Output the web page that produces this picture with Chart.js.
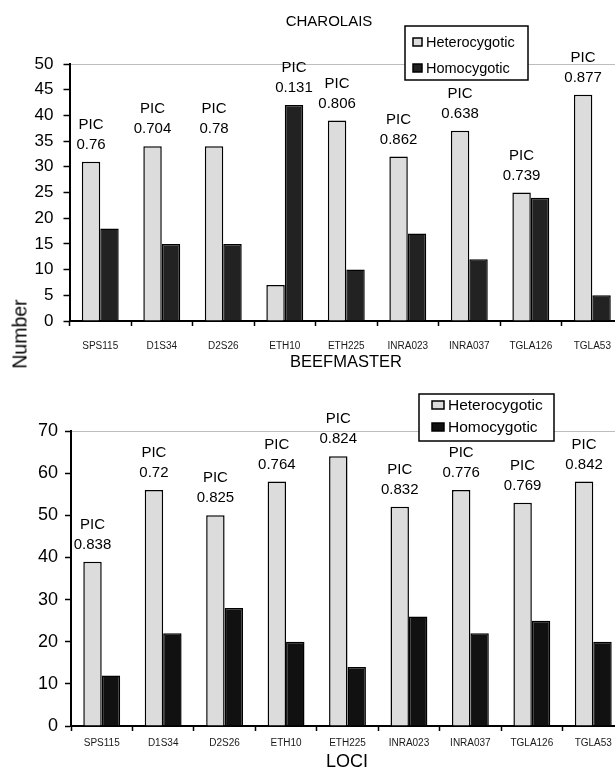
<!DOCTYPE html>
<html>
<head>
<meta charset="utf-8">
<script src="https://cdn.jsdelivr.net/npm/chart.js@4.4.1/dist/chart.umd.min.js"></script>
<style>
  html, body { margin: 0; padding: 0; background: #fff; overflow: hidden; }
  #wrap { position: relative; width: 615px; height: 769px; overflow: hidden; background: #fff; }
  #c1 { position: absolute; left: 0; top: 0; }
  #c2 { position: absolute; left: 0; top: 352px; }
  #ylab { position: absolute; left: 20px; top: 334px; transform: translate(-50%, -50%) rotate(-90deg);
          font: 19.5px "Liberation Sans", Arial, sans-serif; color: #000; white-space: nowrap; }
</style>
</head>
<body>
<div id="wrap">
  <canvas id="c1" width="625" height="352"></canvas>
  <canvas id="c2" width="625" height="417"></canvas>
  <div id="ylab">Number</div>
</div>
<script>
// ---- data ----
const loci = ['SPS115','D1S34','D2S26','ETH10','ETH225','INRA023','INRA037','TGLA126','TGLA53'];
const seriesNames = ['Heterocygotic','Homocygotic'];
const charolaisHet = [31, 34, 34, 7, 39, 32, 37, 25, 44];
const charolaisHom = [18, 15, 15, 42, 10, 17, 12, 24, 5];
const charolaisPIC = ['0.76','0.704','0.78','0.131','0.806','0.862','0.638','0.739','0.877'];
const beefmasterHet = [39, 56, 50, 58, 64, 52, 56, 53, 58];
const beefmasterHom = [12, 22, 28, 20, 14, 26, 22, 25, 20];
const beefmasterPIC = ['0.838','0.72','0.825','0.764','0.824','0.832','0.776','0.769','0.842'];
const charolaisTitle = 'CHAROLAIS';
const beefmasterTitle = 'BEEFMASTER';
const xAxisTitle = 'LOCI';
const picWord = 'PIC';

const FONT = '"Liberation Sans", Arial, sans-serif';

// ---- plugins ----
const picPlugin = {
  id: 'picLabels',
  afterDatasetsDraw(chart, args, opts) {
    const ctx = chart.ctx;
    const m0 = chart.getDatasetMeta(0), m1 = chart.getDatasetMeta(1);
    ctx.save();
    ctx.fillStyle = '#000';
    ctx.font = '15px ' + FONT;
    ctx.textAlign = 'center';
    ctx.textBaseline = 'middle';
    opts.values.forEach((v, i) => {
      const a = m0.data[i], b = m1.data[i];
      const el = (b.y < a.y) ? b : a;
      ctx.fillText(picWord, el.x, el.y - 37);
      ctx.fillText(v, el.x, el.y - 17);
    });
    ctx.restore();
  }
};

const boxLegend = {
  id: 'boxLegend',
  afterDraw(chart, args, o) {
    const ctx = chart.ctx;
    ctx.save();
    ctx.fillStyle = '#fff';
    ctx.fillRect(o.x, o.y, o.w, o.h);
    ctx.strokeStyle = '#000';
    ctx.lineWidth = 1.5;
    ctx.strokeRect(o.x, o.y, o.w, o.h);
    ctx.font = o.fontSize + 'px ' + FONT;
    ctx.textAlign = 'left';
    ctx.textBaseline = 'middle';
    chart.data.datasets.forEach((ds, i) => {
      const cy = o.y + o.first + i * o.gap;
      ctx.fillStyle = ds.backgroundColor;
      ctx.fillRect(o.x + o.mx, cy - o.mh / 2, o.mw, o.mh);
      ctx.strokeStyle = '#000';
      ctx.lineWidth = 1.5;
      ctx.strokeRect(o.x + o.mx, cy - o.mh / 2, o.mw, o.mh);
      ctx.fillStyle = '#000';
      ctx.fillText(ds.label, o.x + o.tx, cy + 1);
    });
    ctx.restore();
  }
};

const captions = {
  id: 'captions',
  afterDraw(chart, args, o) {
    const ctx = chart.ctx;
    ctx.save();
    ctx.fillStyle = '#000';
    ctx.textAlign = 'center';
    ctx.textBaseline = 'middle';
    o.items.forEach(it => {
      ctx.font = it.size + 'px ' + FONT;
      ctx.fillText(it.text, it.x, it.y);
    });
    ctx.restore();
  }
};

function makeChart(canvasId, het, hom, pic, homColor, yMax, yStep, cfg) {
  return new Chart(document.getElementById(canvasId), {
    type: 'bar',
    data: {
      labels: loci,
      datasets: [
        { label: seriesNames[0], data: het, backgroundColor: '#dcdcdc', borderColor: '#000', borderWidth: 1.5,
          categoryPercentage: 0.6, barPercentage: 1.0 },
        { label: seriesNames[1], data: hom, backgroundColor: homColor, borderColor: '#000', borderWidth: 1.5,
          categoryPercentage: 0.6, barPercentage: 1.0 }
      ]
    },
    options: {
      responsive: false,
      animation: false,
      devicePixelRatio: 1,
      layout: { padding: { top: cfg.top, right: 1, left: 0, bottom: 0 } },
      plugins: {
        legend: { display: false },
        tooltip: { enabled: false },
        title: { display: false },
        picLabels: { values: pic },
        boxLegend: cfg.legend,
        captions: { items: cfg.captions }
      },
      scales: {
        x: {
          afterFit: s => { s.height = cfg.xh; },
          grid: { display: true, drawOnChartArea: false, offset: true, color: '#000',
                  tickColor: '#000', tickLength: 5, tickWidth: 1.5 },
          border: { display: true, color: '#000', width: 2 },
          ticks: { color: '#1a1a1a', font: { family: FONT, size: 10 }, padding: cfg.xpad, maxRotation: 0, autoSkip: false }
        },
        y: {
          min: 0, max: yMax,
          afterFit: s => { s.width = cfg.left; },
          grid: { color: c => (c.tick && c.tick.value === yMax) ? '#bdbdbd' : 'rgba(0,0,0,0)',
                  lineWidth: 1, tickColor: '#000', tickLength: 6, tickWidth: 1.5, drawOnChartArea: true },
          border: { display: true, color: '#000', width: 2 },
          ticks: { stepSize: yStep, color: '#000', font: { family: FONT, size: cfg.yfont }, padding: cfg.ypad }
        }
      }
    },
    plugins: [picPlugin, boxLegend, captions]
  });
}

makeChart('c1', charolaisHet, charolaisHom, charolaisPIC, '#222222', 50, 5, {
  top: 64, xh: 31, left: 69.5, xpad: 14, yfont: 17, ypad: 10,
  legend: { x: 405, y: 26, w: 123, h: 54, first: 16, gap: 26, mx: 8, mw: 9, mh: 8, tx: 21, fontSize: 14.5 },
  captions: [ { text: charolaisTitle, x: 329, y: 22, size: 15 } ]
});

makeChart('c2', beefmasterHet, beefmasterHom, beefmasterPIC, '#111111', 70, 10, {
  top: 79, xh: 43, left: 71, xpad: 6, yfont: 18, ypad: 7,
  legend: { x: 419, y: 42, w: 135, h: 47, first: 11, gap: 22, mx: 13, mw: 12, mh: 8, tx: 29, fontSize: 15.5 },
  captions: [ { text: beefmasterTitle, x: 346, y: 10, size: 16.5 },
              { text: xAxisTitle, x: 347, y: 410, size: 18 } ]
});
</script>
</body>
</html>
